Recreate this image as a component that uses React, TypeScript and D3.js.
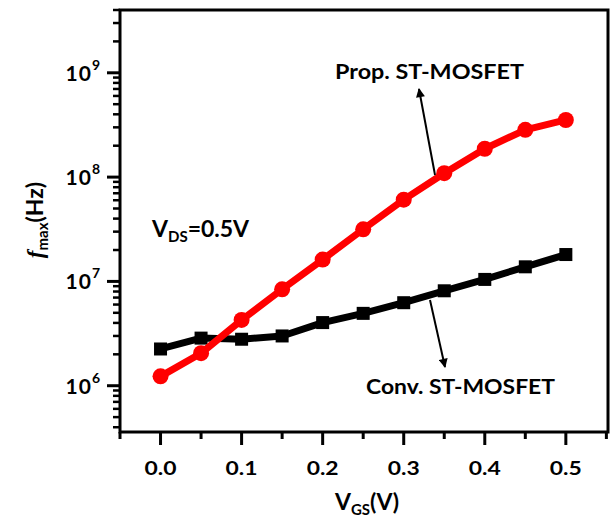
import React from 'react'
import * as d3 from 'd3'

const vgs = [0, 0.05, 0.1, 0.15, 0.2, 0.25, 0.3, 0.35, 0.4, 0.45, 0.5]
const propFmax = [1.23e6, 2.05e6, 4.27e6, 8.4e6, 1.62e7, 3.16e7, 6.08e7, 1.09e8, 1.87e8, 2.84e8, 3.53e8]
const convFmax = [2.25e6, 2.86e6, 2.79e6, 3.0e6, 4.03e6, 4.94e6, 6.25e6, 8.13e6, 1.045e7, 1.38e7, 1.81e7]
const xTicks = [0, 0.1, 0.2, 0.3, 0.4, 0.5]
const xMinor = [-0.05, 0.05, 0.15, 0.25, 0.35, 0.45, 0.55]
const yDecades = [6, 7, 8, 9]

const W = 613
const H = 517
const margin = { top: 10, right: 5, bottom: 85, left: 120 }
const font = 'Lato, "Open Sans", sans-serif'

const App = () => {
  const x = d3.scaleLinear().domain([-0.05, 0.552]).range([margin.left, W - margin.right])
  const y = d3.scaleLog().domain([3.6e5, 4e9]).range([H - margin.bottom, margin.top])

  const yMinor: number[] = []
  for (let e = 5; e <= 9; e++) {
    for (let m = 2; m <= 9; m++) {
      const v = m * Math.pow(10, e)
      if (v >= 3.6e5 && v <= 4e9) yMinor.push(v)
    }
  }

  const line = d3.line<number>()
    .x((d, i) => x(vgs[i]))
    .y((d) => y(d))

  const x0 = margin.left
  const x1 = W - margin.right
  const y0 = H - margin.bottom
  const y1 = margin.top

  return (
    <svg width={W} height={H} style={{ position: 'absolute', left: 0, top: 0 }} fontFamily={font} fontWeight="bold">
      <defs>
        <marker id="ah" viewBox="0 0 10 10" refX="9" refY="5" markerWidth="6" markerHeight="4.5" markerUnits="strokeWidth" orient="auto">
          <path d="M0,0 L10,5 L0,10 z" fill="#000" />
        </marker>
      </defs>
      <rect x={0} y={0} width={W} height={H} fill="#fff" />

      {/* data */}
      <path d={line(convFmax) || ''} fill="none" stroke="#000" strokeWidth={7} strokeLinejoin="round" />
      {convFmax.map((d, i) => (
        <rect key={'c' + i} x={x(vgs[i]) - 6.5} y={y(d) - 6.5} width={13} height={13} fill="#000" />
      ))}
      <path d={line(propFmax) || ''} fill="none" stroke="#ff0000" strokeWidth={7} strokeLinejoin="round" />
      {propFmax.map((d, i) => (
        <circle key={'p' + i} cx={x(vgs[i])} cy={y(d)} r={8} fill="#ff0000" />
      ))}

      {/* frame */}
      <rect x={x0} y={y1} width={x1 - x0} height={y0 - y1} fill="none" stroke="#000" strokeWidth={3} />

      {/* x ticks */}
      {xTicks.map((t) => (
        <g key={'xt' + t}>
          <line x1={x(t)} x2={x(t)} y1={y0} y2={y0 + 13} stroke="#000" strokeWidth={3} />
          <text x={x(t)} y={y0 + 43} textAnchor="middle" fontSize={18} textLength={32} lengthAdjust="spacingAndGlyphs">{t.toFixed(1)}</text>
        </g>
      ))}
      {xMinor.map((t) => (
        <line key={'xm' + t} x1={x(t)} x2={x(t)} y1={y0} y2={y0 + 7} stroke="#000" strokeWidth={3} />
      ))}

      {/* y ticks */}
      {yDecades.map((e) => (
        <g key={'yt' + e}>
          <line x1={x0 - 13} x2={x0} y1={y(Math.pow(10, e))} y2={y(Math.pow(10, e))} stroke="#000" strokeWidth={3} />
          <text x={x0 - 20} y={y(Math.pow(10, e)) + 8} textAnchor="end" fontSize={21}>
            <tspan letterSpacing={1}>10</tspan><tspan dy={-11} fontSize={14}>{e}</tspan>
          </text>
        </g>
      ))}
      {yMinor.map((v) => (
        <line key={'ym' + v} x1={x0 - 7} x2={x0} y1={y(v)} y2={y(v)} stroke="#000" strokeWidth={2.5} />
      ))}

      {/* axis titles */}
      <text x={367} y={510} textAnchor="middle" fontSize={23}>
        V<tspan dy={5} fontSize={15}>GS</tspan><tspan dy={-5}>(V)</tspan>
      </text>
      <text transform="translate(43,220) rotate(-90)" textAnchor="middle" fontSize={23}>
        <tspan fontStyle="italic" fontFamily='"Liberation Serif", serif'>f</tspan>
        <tspan dy={5} fontSize={15}>max</tspan><tspan dy={-5}>(Hz)</tspan>
      </text>

      {/* annotations */}
      <text x={152} y={237} fontSize={23}>
        V<tspan dy={5} fontSize={15}>DS</tspan><tspan dy={-5}>=0.5V</tspan>
      </text>
      <text x={335} y={79} fontSize={21} textLength={189} lengthAdjust="spacingAndGlyphs">Prop. ST-MOSFET</text>
      <text x={366} y={394} fontSize={21} textLength={189} lengthAdjust="spacingAndGlyphs">Conv. ST-MOSFET</text>
      <line x1={435} y1={175} x2={419} y2={89} stroke="#000" strokeWidth={2} markerEnd="url(#ah)" />
      <line x1={430} y1={300} x2={445} y2={367} stroke="#000" strokeWidth={2} markerEnd="url(#ah)" />
    </svg>
  )
}

export default App
